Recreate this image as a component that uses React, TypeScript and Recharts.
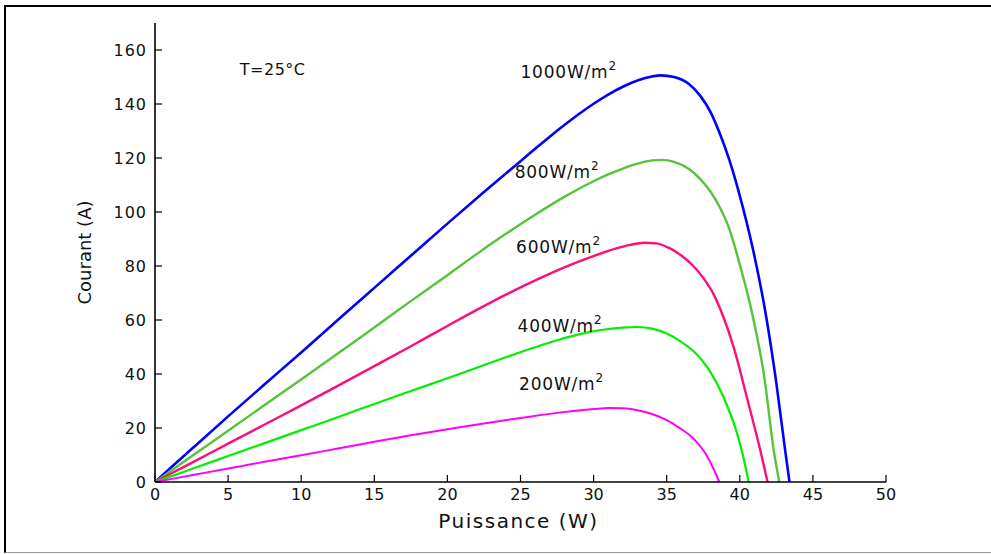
import React from 'react'
import { LineChart, Line, XAxis, YAxis, ReferenceDot } from 'recharts'

// x values and matching y values for each irradiance curve
const v1000 = [0, 1, 2.5, 5, 7.5, 10, 12.5, 15, 17.5, 20, 22.5, 25, 26, 27, 28, 29, 30, 31, 32, 33, 34, 34.6, 35.5, 36.5, 37.3, 38, 38.6, 39.3, 40, 40.9, 41.8, 42.5, 43.1, 43.4]
const i1000 = [0, 4.9, 12.2, 24.3, 36.2, 48, 60, 71.9, 83.8, 95.7, 107.4, 118.8, 123.4, 127.9, 132.2, 136.3, 140.1, 143.5, 146.4, 148.7, 150.2, 150.6, 150, 147.5, 143, 137, 129.5, 119, 106, 86.2, 61.4, 36.6, 11.8, 0]

const v800 = [0, 1, 2.5, 5, 7.5, 10, 12.5, 15, 17.5, 20, 22, 24, 26, 28, 30, 31, 32, 33, 34, 34.7, 35.5, 36.5, 37.3, 38, 38.7, 39.3, 40, 40.8, 41.7, 42.3, 42.7]
const i800 = [0, 3.8, 9.5, 19, 28.5, 38, 47.6, 57.2, 67, 76.6, 84.4, 91.9, 99, 105.6, 111.4, 113.9, 116.1, 117.9, 119.1, 119.3, 118.6, 116, 112.2, 107.5, 101, 93.5, 80.5, 63.5, 38, 12.5, 0]

const v600 = [0, 1, 2.5, 5, 7.5, 10, 12.5, 15, 17.5, 20, 22.2, 24, 26.3, 28, 29.8, 31.5, 32.5, 33.5, 34.3, 35.2, 36, 36.8, 37.5, 38.2, 38.8, 39.6, 40.5, 41.4, 41.9]
const i600 = [0, 2.85, 7.1, 14.2, 21.3, 28.4, 35.6, 42.9, 50.3, 57.8, 64.3, 69.4, 75.4, 79.5, 83.3, 86.4, 87.8, 88.6, 88.4, 86.6, 83.9, 80.1, 75.6, 69.6, 62.2, 49.6, 31, 11.8, 0]

const v400 = [0, 1, 2.5, 5, 7.5, 10, 12.5, 15, 17.5, 20, 22, 24, 26, 27.5, 29, 30.5, 32, 33, 34, 35, 36, 37, 37.8, 38.5, 39.2, 39.8, 40.2, 40.6]
const i400 = [0, 1.9, 4.8, 9.6, 14.4, 19.2, 24, 28.9, 33.7, 38.4, 42.3, 46.2, 49.9, 52.5, 54.7, 56.3, 57.2, 57.4, 56.8, 55, 51.9, 47.6, 42.3, 35.8, 27.4, 18.2, 10.2, 0]

const v200 = [0, 2.5, 5, 7.5, 10, 12.5, 15, 17.5, 20, 22.5, 25, 27.5, 30, 31, 32, 33, 34, 35, 36, 36.6, 37.1, 37.6, 38.1, 38.6]
const i200 = [0, 2.5, 5, 7.5, 9.9, 12.4, 14.9, 17.3, 19.5, 21.7, 23.7, 25.6, 27, 27.4, 27.3, 26.6, 25.2, 22.9, 19.6, 17.2, 14.5, 11, 6, 0]

const xTicks = [0, 5, 10, 15, 20, 25, 30, 35, 40, 45, 50]
const yTicks = [0, 20, 40, 60, 80, 100, 120, 140, 160]

const toPoints = (v: number[], i: number[]) => v.map((x, k) => ({ v: x, i: i[k] }))

const series = [
  { name: '1000W/m', data: toPoints(v1000, i1000), color: '#0000ff', width: 2.6, lx: 25, ly: 149.5 },
  { name: '800W/m', data: toPoints(v800, i800), color: '#55c43c', width: 2.4, lx: 24.6, ly: 112.5 },
  { name: '600W/m', data: toPoints(v600, i600), color: '#ff0d7a', width: 2.4, lx: 24.7, ly: 84.7 },
  { name: '400W/m', data: toPoints(v400, i400), color: '#00f000', width: 2.2, lx: 24.8, ly: 55.7 },
  { name: '200W/m', data: toPoints(v200, i200), color: '#ff00ff', width: 2, lx: 24.9, ly: 34.1 },
]

const FONT = '"DejaVu Sans", Verdana, sans-serif'
const INK = '#111'

const YTick = ({ x, y, payload }: any) => (
  <g>
    <line x1={x} y1={y} x2={x + 7} y2={y} stroke="#000" strokeWidth={1.2} />
    <text x={x - 8} y={y} dy="0.36em" textAnchor="end" fontSize={16} letterSpacing={1} fill={INK} fontFamily={FONT}>
      {payload.value}
    </text>
  </g>
)

const XTick = ({ x, y, payload }: any) => (
  <g>
    <line x1={x} y1={y} x2={x} y2={y - 7} stroke="#000" strokeWidth={1.2} />
    <text x={x} y={y + 18} textAnchor="middle" fontSize={16} fill={INK} fontFamily={FONT}>
      {payload.value}
    </text>
  </g>
)

export default function App() {
  return (
    <div style={{ position: 'fixed', left: 0, top: 0, width: 991, height: 554, background: '#fff', overflow: 'hidden' }}>
      <div
        style={{
          position: 'absolute', left: 4, top: 5, width: 1100, height: 545,
          borderTop: '2px solid #000', borderLeft: '2px solid #000', borderBottom: '1px solid #999',
        }}
      />
      <LineChart
        width={991}
        height={554}
        margin={{ top: 23, right: 105, bottom: 42, left: 95 }}
        style={{ position: 'absolute', left: 0, top: 0 }}
      >
        <XAxis
          dataKey="v"
          type="number"
          domain={[0, 50]}
          ticks={xTicks}
          interval={0}
          height={30}
          tickSize={0}
          tickMargin={0}
          tickLine={false}
          tick={<XTick />}
          axisLine={{ stroke: '#000', strokeWidth: 1.6 }}
          allowDataOverflow
          label={(p: any) => {
            const vb = p.viewBox || p
            return (
              <text x={vb.x + vb.width / 2 - 2} y={vb.y + 46} textAnchor="middle" fontSize={20} letterSpacing={1.5} fill={INK} fontFamily={FONT}>
                Puissance (W)
              </text>
            )
          }}
        />
        <YAxis
          type="number"
          domain={[0, 170]}
          ticks={yTicks}
          interval={0}
          width={60}
          tickSize={0}
          tickMargin={0}
          tickLine={false}
          tick={<YTick />}
          axisLine={{ stroke: '#000', strokeWidth: 1.6 }}
          allowDataOverflow
          label={(p: any) => {
            const vb = p.viewBox || p
            const cx = vb.x - 10
            const cy = vb.y + vb.height / 2
            return (
              <text x={cx} y={cy} dy="0.36em" transform={`rotate(-90 ${cx} ${cy})`} textAnchor="middle" fontSize={18} fill={INK} fontFamily={FONT}>
                Courant (A)
              </text>
            )
          }}
        />
        {series.map((s) => (
          <Line
            key={s.name}
            data={s.data}
            dataKey="i"
            type="monotone"
            stroke={s.color}
            strokeWidth={s.width}
            dot={false}
            activeDot={false}
            isAnimationActive={false}
          />
        ))}
        {series.map((s) => (
          <ReferenceDot
            key={'lbl' + s.name}
            x={s.lx}
            y={s.ly}
            r={0}
            shape={(p: any) => (
              <text x={p.cx} y={p.cy} fontSize={17} letterSpacing={0.8} fill={INK} fontFamily={FONT}>
                {s.name}
                <tspan dy={-8} fontSize={12}>2</tspan>
              </text>
            )}
          />
        ))}
        <ReferenceDot
          x={5.8}
          y={150.7}
          r={0}
          shape={(p: any) => (
            <text x={p.cx} y={p.cy} fontSize={16} letterSpacing={0.5} fill={INK} fontFamily={FONT}>
              T=25°C
            </text>
          )}
        />
      </LineChart>
    </div>
  )
}
